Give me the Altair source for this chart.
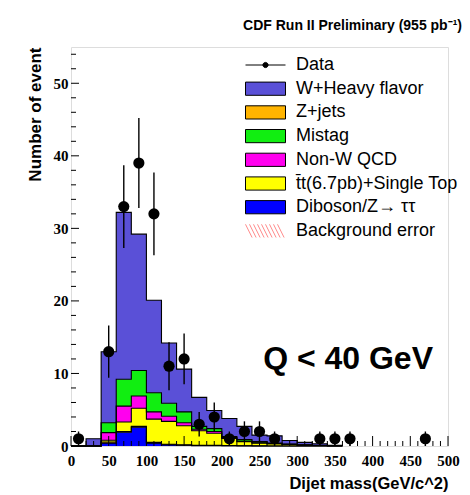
import altair as alt
import pandas as pd

# ---------------- data ----------------
bin_low = [0, 20, 40, 60, 80, 100, 120, 140, 160, 180, 200, 220, 240, 260, 280, 300, 320, 340]
bin_end = 360

# stacked MC components (individual contributions per 20 GeV bin), bottom -> top
diboson = [0, 0, 0.40, 1.90, 2.60, 0.40, 0.15, 0.10, 0.05, 0.05, 0.03, 0.02, 0.01, 0, 0, 0, 0, 0]
zjets   = [0, 0, 0.15, 0.10, 0.10, 0.10, 0.10, 0.05, 0.05, 0.05, 0.02, 0.02, 0.01, 0.01, 0, 0, 0, 0]
ttbar   = [0, 0, 0.25, 1.30, 2.50, 3.20, 3.15, 2.65, 2.00, 1.65, 1.00, 0.56, 0.38, 0.29, 0.20, 0.12, 0.06, 0.03]
nonw    = [0, 0, 1.05, 2.20, 1.70, 1.00, 0.70, 0.40, 0.20, 0.25, 0.10, 0.08, 0.05, 0.03, 0.02, 0.01, 0, 0]
mistag  = [0, 0, 1.35, 3.70, 3.50, 2.65, 1.80, 1.50, 0.40, 0.40, 0.15, 0.22, 0.15, 0.07, 0.05, 0.03, 0.02, 0]
whf     = [0, 1.00, 9.80, 23.0, 18.8, 12.75, 8.30, 5.90, 4.00, 2.50, 2.50, 1.80, 0.90, 1.00, 0.48, 0.34, 0.22, 0.07]

name_dib = "Diboson/Z\u2192 \u03c4\u03c4"
name_z = "Z+jets"
name_tt = "t\u0304t(6.7pb)+Single Top"
name_qcd = "Non-W QCD"
name_mis = "Mistag"
name_whf = "W+Heavy flavor"

stack_names = [name_dib, name_z, name_tt, name_qcd, name_mis, name_whf]
stack_values = [diboson, zjets, ttbar, nonw, mistag, whf]

# observed data
data_mass  = [10, 50, 70, 90, 110, 130, 150, 170, 190, 210, 230, 250, 270, 330, 350, 370, 470]
data_count = [1, 13, 33, 39, 32, 11, 12, 3, 4, 1, 2, 2, 1, 1, 1, 1, 1]
data_err   = [1.0, 3.6, 5.7, 6.2, 5.7, 3.3, 3.5, 1.7, 2.0, 1.0, 1.4, 1.4, 1.0, 1.0, 1.0, 1.0, 1.0]

legend_order = ["Data", name_whf, name_z, name_mis, name_qcd, name_tt, name_dib, "Background error"]
legend_colors = ["#000000", "#5a50d7", "#ffb400", "#11ee11", "#ff00ee", "#ffff00", "#0000ff", "#ff8a8a"]

annotation = ["Q < 40 GeV"]

x_major = [0, 50, 100, 150, 200, 250, 300, 350, 400, 450, 500]
x_minor = [v for v in range(10, 500, 10) if v % 50 != 0]
y_major = [0, 10, 20, 30, 40, 50]
y_minor = [v for v in range(2, 55, 2) if v % 10 != 0]

# ---------------- tables ----------------
rows = []
cum = [0.0] * len(bin_low)
for name, vals in zip(stack_names, stack_values):
    for i, lo in enumerate(bin_low):
        rows.append({"comp": name, "x": lo, "y0": cum[i], "y1": cum[i] + vals[i]})
    rows.append({"comp": name, "x": bin_end, "y0": 0.0, "y1": 0.0})
    cum = [c + v for c, v in zip(cum, vals)]
stack_df = pd.DataFrame(rows)

data_df = pd.DataFrame({"x": data_mass, "n": data_count, "e": data_err})
data_df["lo"] = data_df["n"] - data_df["e"]
data_df["hi"] = data_df["n"] + data_df["e"]

W, H = 377, 399
XDOM = [0, 500]
YDOM = [0, 55]

x_axis = alt.Axis(values=x_major, ticks=False, domain=False, grid=False,
                  labelFont="Liberation Serif", labelFontWeight="bold", labelFontSize=15,
                  labelColor="black", labelPadding=7, labelFlush=False, labelOverlap=False,
                  title="Dijet mass(GeV/c^2)", titleAnchor="end", titleFont="Liberation Sans",
                  titleFontSize=16.5, titleFontWeight="bold", titleColor="black", titlePadding=7)
y_axis = alt.Axis(values=y_major, ticks=False, domain=False, grid=False,
                  labelFont="Liberation Serif", labelFontWeight="bold", labelFontSize=15,
                  labelColor="black", labelPadding=3, labelFlush=False, labelOverlap=False,
                  title="Number of event", titleAnchor="end", titleFont="Liberation Sans",
                  titleFontSize=17, titleFontWeight="bold", titleColor="black", titlePadding=9)

xs = alt.Scale(domain=XDOM, nice=False, zero=False)
ys = alt.Scale(domain=YDOM, nice=False, zero=False)

RECT = "M-1,-0.33H1V0.33H-1Z"
DATA_SYM = "M-1,0H1M0.13,0A0.13,0.13,0,1,1,-0.13,0A0.13,0.13,0,1,1,0.13,0Z"
HATCH = " ".join(
    f"M{a:.2f},-0.33L{a + 0.33:.2f},0.33" for a in [-1.0, -0.8, -0.6, -0.4, -0.2, 0.0, 0.2, 0.4, 0.6]
)
shape_expr = (f"datum.value === 'Data' ? '{DATA_SYM}' : "
              f"(datum.value === 'Background error' ? '{HATCH}' : '{RECT}')")
stroke_expr = "datum.value === 'Background error' ? '#ff8a8a' : 'black'"

legend = alt.Legend(
    title=None, orient="none", legendX=174, legendY=7, padding=0,
    symbolSize=1600, symbolStrokeWidth=1, clipHeight=22, rowPadding=1.7,
    symbolType=alt.ExprRef(expr=shape_expr),
    symbolStrokeColor=alt.ExprRef(expr=stroke_expr),
    labelFont="Liberation Sans", labelFontSize=18, labelColor="black", labelOffset=10,
    labelLimit=300,
)

areas = alt.Chart(stack_df).mark_area(interpolate="step-after", opacity=1).encode(
    x=alt.X("x:Q", scale=xs, axis=x_axis),
    y=alt.Y("y1:Q", scale=ys, axis=y_axis, stack=None),
    y2="y0:Q",
    color=alt.Color("comp:N", scale=alt.Scale(domain=legend_order, range=legend_colors), legend=legend),
)

outlines = alt.Chart(stack_df).mark_line(interpolate="step-after", color="black", strokeWidth=1.1).encode(
    x=alt.X("x:Q", scale=xs, axis=x_axis),
    y=alt.Y("y1:Q", scale=ys, axis=y_axis),
    detail="comp:N",
)

errbars = alt.Chart(data_df).mark_rule(color="black", strokeWidth=1.4).encode(
    x=alt.X("x:Q", scale=xs, axis=x_axis),
    y=alt.Y("lo:Q", scale=ys, axis=y_axis),
    y2="hi:Q",
)

points = alt.Chart(data_df).mark_circle(color="black", size=125, opacity=1).encode(
    x=alt.X("x:Q", scale=xs, axis=x_axis),
    y=alt.Y("n:Q", scale=ys, axis=y_axis),
)

def xticks(vals, length):
    return alt.Chart(pd.DataFrame({"v": vals})).mark_rule(color="black", strokeWidth=1).encode(
        x=alt.X("v:Q", scale=xs, axis=x_axis),
        y=alt.value(H), y2=alt.value(H - length),
    )

def yticks(vals, length):
    return alt.Chart(pd.DataFrame({"v": vals})).mark_rule(color="black", strokeWidth=1).encode(
        y=alt.Y("v:Q", scale=ys, axis=y_axis),
        x=alt.value(0), x2=alt.value(length),
    )

label = alt.Chart(pd.DataFrame({"t": annotation})).mark_text(
    font="Liberation Sans", fontSize=32, fontWeight="bold", color="black",
    align="right", baseline="alphabetic",
).encode(text="t:N", x=alt.value(362), y=alt.value(322))

chart = alt.layer(
    areas, outlines, errbars, points,
    xticks(x_major, 10), xticks(x_minor, 5), yticks(y_major, 8), yticks(y_minor, 5),
    label,
).properties(
    width=W, height=H,
    title=alt.TitleParams("CDF Run II Preliminary (955 pb\u207b\u00b9)", anchor="end", frame="group",
                          font="Liberation Sans", fontSize=14, fontWeight="bold", color="black",
                          dx=14, offset=14),
    autosize=alt.AutoSizeParams(type="none"),
    padding={"left": 71, "top": 47, "right": 22, "bottom": 49},
).configure_view(stroke="black", strokeWidth=1).configure(background="white")

chart.save("out.html", embed_options={"renderer": "svg", "actions": False})
